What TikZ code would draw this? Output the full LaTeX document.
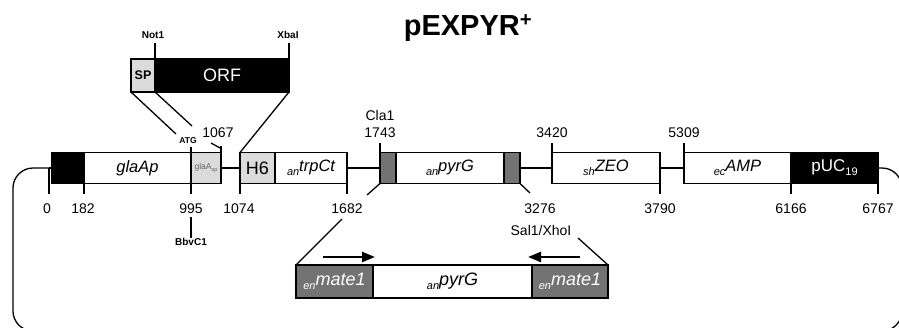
\documentclass[tikz,border=0pt]{standalone}
\usepackage{fontspec}
\setmainfont{Liberation Sans}
\usetikzlibrary{arrows.meta}
\definecolor{lgray}{gray}{0.86}
\definecolor{mgray}{gray}{0.45}
\newcommand{\gsub}[2]{{\fontsize{11}{11}\selectfont\itshape\raisebox{-4.5pt}{#1}}{\itshape #2}}
\begin{document}
\begin{tikzpicture}[x=1pt,y=-1pt,
  ln/.style={line width=1.3pt},
  seg/.style={draw, line width=1.3pt, minimum height=31pt, inner sep=0pt, outer sep=0pt, anchor=west, font=\fontsize{16.5}{16.5}\selectfont},
  ibox/.style={draw, line width=1.3pt, minimum height=33pt, inner sep=0pt, outer sep=0pt, anchor=west, font=\fontsize{18}{18}\selectfont},
  tbox/.style={draw, line width=1.3pt, minimum height=33pt, inner sep=0pt, outer sep=0pt, anchor=north west},
  num/.style={inner sep=0pt, font=\fontsize{14}{14}\selectfont},
  site/.style={inner sep=0pt, font=\bfseries\fontsize{10}{10}\selectfont},
  arr/.style={line width=2.4pt, -{Triangle[length=13pt,width=10pt]}}
]
\useasboundingbox (0,0) rectangle (899,327);

% title
\node[inner sep=0pt, font=\bfseries\fontsize{29}{29}\selectfont] (title) at (468,28) {pEXPYR\textsuperscript{+}};

% main map
\coordinate (c0) at (49,168);
\node[seg, fill=black, minimum width=32] (blk1) at (52,168) {};
\node[seg, minimum width=107] (glap) at (84,168) {\textit{glaAp}};
\node[seg, fill=lgray, minimum width=30] (glasp) at (191,168) {\textcolor{black!60}{\fontsize{8.5}{8.5}\selectfont glaA\raisebox{-2pt}{\fontsize{5.5}{5.5}\selectfont sp}}};
\node[seg, fill=lgray, minimum width=35, font=\fontsize{18}{18}\selectfont] (h6) at (240,168) {H6};
\node[seg, minimum width=72] (trp) at (275,168) {\gsub{an}{trpCt}};
\node[seg, fill=mgray, minimum width=16] (pyrl) at (380,168) {};
\node[seg, minimum width=108] (pyrm) at (396,168) {\gsub{an}{pyrG}};
\node[seg, fill=mgray, minimum width=16] (pyrr) at (504,168) {};
\node[seg, minimum width=108] (zeo) at (552,168) {\gsub{sh}{ZEO}};
\node[seg, minimum width=107] (amp) at (684,168) {\gsub{ec}{AMP}};
\node[seg, fill=black, text=white, minimum width=87, font=\fontsize{17}{17}\selectfont] (puc) at (791,168) {pUC\raisebox{-4pt}{\fontsize{11}{11}\selectfont 19}};

% backbone
\draw[ln] (blk1.west) -- (c0);
\draw[ln] (glasp.east) -- (h6.west);
\draw[ln] (trp.east) -- (pyrl.west);
\draw[ln] (pyrr.east) -- (zeo.west);
\draw[ln] (zeo.east) -- (amp.west);
\draw[ln, rounded corners=20pt] (c0) -- (13,168) -- (13,331) -- (902,331) -- (902,168) -- (puc.east);

% ticks below
\draw[ln] (c0) -- ++(0,26);
\draw[ln] (blk1.south east) -- ++(0,10);
\draw[ln] (glasp.south west) -- ++(0,10);
\draw[ln] (h6.south west) -- ++(0,10);
\draw[ln] (trp.south east) -- ++(0,10);
\draw[ln] (zeo.south east) -- ++(0,10);
\draw[ln] (puc.south west) -- ++(0,10);
\draw[ln] (puc.east) -- ++(0,26);
% ticks above
\draw[ln] (glasp.north west) -- ++(0,-6);
\draw[ln] (glasp.north east) -- ++(0,-7);
\draw[ln] (pyrl.north west) -- ++(0,-10);
\draw[ln] (zeo.north west) -- ++(0,-10);
\draw[ln] (amp.north west) -- ++(0,-10);

% position labels
\node[num] (n0) at (47,209) {0};
\node[num] (n182) at (83,209) {182};
\node[num] (n995) at (191,209) {995};
\node[num] (n1074) at (239,209) {1074};
\node[num] (n1682) at (347,209) {1682};
\node[num] (n3276) at (540,209) {3276};
\node[num] (n3790) at (660,209) {3790};
\node[num] (n6166) at (791,209) {6166};
\node[num] (n6767) at (878,209) {6767};
\node[num] (n1067) at (218,133) {1067};
\node[num] (n1743) at (380,133) {1743};
\node[num] (ncla) at (380,115) {Cla1};
\node[num] (n3420) at (552,133) {3420};
\node[num] (n5309) at (684,133) {5309};
\node[num] (nsal) at (541,230) {Sal1/XhoI};
\node[site, font=\bfseries\fontsize{8.5}{8.5}\selectfont] (atg) at (188,141) {ATG};
\node[site] (bbv) at (191,242) {BbvC1};
\coordinate (bbvt) at (191,217);
\draw[ln] (bbvt) -- (bbv.north);
\coordinate (p1067) at (211,143);
\draw[ln] (p1067) -- (220,148);

% top insert
\node[tbox, fill=lgray, minimum width=24, font=\bfseries\fontsize{12.5}{12.5}\selectfont] (sp) at (131,59) {SP};
\node[tbox, fill=black, text=white, minimum width=134, font=\fontsize{18}{18}\selectfont] (orf) at (155,59) {ORF};
\node[site] (not) at (153,35) {Not1};
\node[site] (xba) at (288,35) {XbaI};
\draw[ln] (orf.north west) -- ++(0,-16);
\draw[ln] (orf.north east) -- ++(0,-16);
\coordinate (d1) at (176,134);
\coordinate (d2) at (192,126);
\draw[ln] (sp.south west) -- (d1);
\draw[ln] (sp.south east) -- (d2);
\draw[ln] (orf.south east) -- (h6.north west);

% bottom insert
\node[ibox, fill=mgray, text=white, minimum width=77] (m1) at (296,281.5) {\gsub{en}{mate1}};
\node[ibox, minimum width=159] (pg) at (373,281.5) {\gsub{an}{pyrG}};
\node[ibox, fill=mgray, text=white, minimum width=76] (m2) at (532,281.5) {\gsub{en}{mate1}};
\coordinate (e1) at (367,195);
\coordinate (e2) at (342,219);
\coordinate (e3) at (530,193);
\coordinate (e4) at (578,238);
\draw[ln] (pyrl.south west) -- (e1);
\draw[ln] (e2) -- (m1.north west);
\draw[ln] (pyrr.south east) -- (e3);
\draw[ln] (e4) -- (m2.north east);
\coordinate (a1) at (323,257);
\coordinate (a2) at (375,257);
\coordinate (a3) at (580,257);
\coordinate (a4) at (528,257);
\draw[arr] (a1) -- (a2);
\draw[arr] (a3) -- (a4);
\end{tikzpicture}
\end{document}
